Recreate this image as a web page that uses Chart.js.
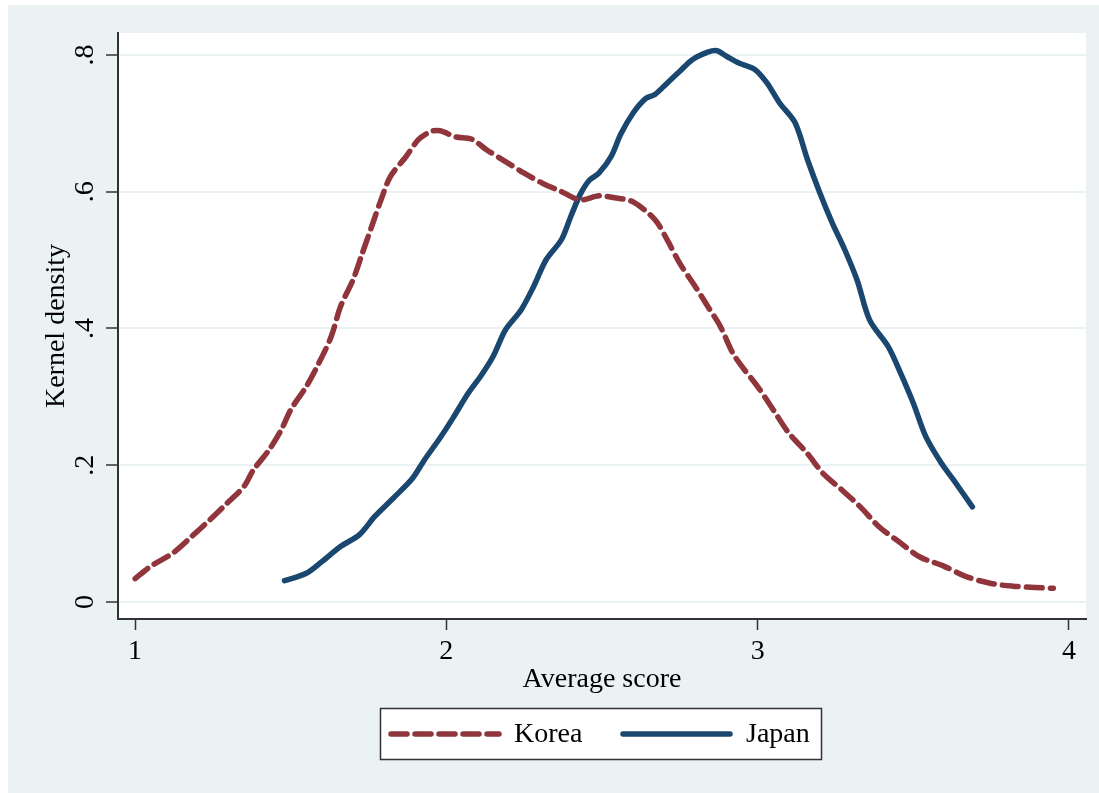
<!DOCTYPE html>
<html>
<head>
<meta charset="utf-8">
<script src="https://cdn.jsdelivr.net/npm/chart.js@4/dist/chart.umd.min.js"></script>
<style>
    html, body { margin: 0; padding: 0; background: #ffffff; }
    #densityChart { display: block; }
</style>
</head>
<body>
<canvas id="densityChart" width="1099" height="793"></canvas>
<script>
// Données
const koreaX = [1.00, 1.05, 1.12, 1.18, 1.24, 1.29, 1.35, 1.38, 1.43, 1.47, 1.50, 1.55, 1.59, 1.63, 1.66, 1.70, 1.73, 1.76, 1.79, 1.82, 1.87, 1.91, 1.95, 1.98, 2.03, 2.08, 2.13, 2.19, 2.25, 2.31, 2.37, 2.43, 2.49, 2.54, 2.60, 2.67, 2.71, 2.75, 2.80, 2.84, 2.88, 2.92, 2.95, 3.00, 3.05, 3.10, 3.16, 3.21, 3.27, 3.33, 3.39, 3.46, 3.52, 3.60, 3.67, 3.75, 3.82, 3.89, 3.95];
const koreaY = [0.034, 0.052, 0.071, 0.095, 0.120, 0.142, 0.169, 0.193, 0.222, 0.252, 0.281, 0.315, 0.349, 0.388, 0.432, 0.471, 0.510, 0.549, 0.588, 0.622, 0.651, 0.676, 0.688, 0.689, 0.680, 0.677, 0.661, 0.644, 0.627, 0.612, 0.600, 0.588, 0.594, 0.591, 0.585, 0.559, 0.529, 0.495, 0.461, 0.432, 0.403, 0.364, 0.344, 0.315, 0.281, 0.247, 0.217, 0.188, 0.164, 0.139, 0.110, 0.086, 0.066, 0.052, 0.037, 0.027, 0.023, 0.021, 0.020];

const japanX = [1.48, 1.55, 1.60, 1.66, 1.72, 1.77, 1.83, 1.89, 1.93, 1.98, 2.02, 2.07, 2.11, 2.15, 2.19, 2.24, 2.28, 2.32, 2.37, 2.40, 2.43, 2.46, 2.49, 2.53, 2.56, 2.60, 2.64, 2.67, 2.71, 2.75, 2.79, 2.84, 2.87, 2.90, 2.94, 2.99, 3.03, 3.07, 3.12, 3.16, 3.20, 3.24, 3.28, 3.32, 3.36, 3.42, 3.46, 3.50, 3.54, 3.59, 3.63, 3.69];
const japanY = [0.031, 0.042, 0.059, 0.081, 0.098, 0.125, 0.152, 0.180, 0.208, 0.240, 0.268, 0.305, 0.330, 0.359, 0.398, 0.427, 0.461, 0.500, 0.530, 0.564, 0.596, 0.617, 0.627, 0.652, 0.684, 0.715, 0.736, 0.742, 0.759, 0.776, 0.793, 0.804, 0.806, 0.798, 0.788, 0.779, 0.759, 0.730, 0.701, 0.647, 0.598, 0.554, 0.515, 0.470, 0.412, 0.373, 0.334, 0.291, 0.242, 0.203, 0.178, 0.139];

const xTicks = [1, 2, 3, 4];
const yTicks = [0, 0.2, 0.4, 0.6, 0.8];
const seriesNames = ['Korea', 'Japan'];

const FONT = "'Liberation Serif', 'Times New Roman', serif";
const BG = '#EAF2F3';
const KOREA_COLOR = '#90353B';
const JAPAN_COLOR = '#1A476F';
const KOREA_DASH = [16, 8];
const LINE_W = 5.5;

function toPoints(xs, ys) {
    return xs.map((x, i) => ({ x: x, y: ys[i] }));
}

// Format Stata : .2, .4 ...
function fmtY(v) {
    if (v === 0) return '0';
    return String(Math.round(v * 10) / 10).replace(/^0/, '');
}

// Fond, libellés des axes et légende dessinés à la main
const stataFrame = {
    id: 'stataFrame',
    beforeDraw(chart) {
        const ctx = chart.ctx;
        const a = chart.chartArea;
        ctx.save();
        ctx.fillStyle = '#ffffff';
        ctx.fillRect(0, 0, chart.width, chart.height);
        ctx.fillStyle = BG;
        ctx.fillRect(8, 5, chart.width - 8, chart.height - 5);
        ctx.fillStyle = '#ffffff';
        ctx.fillRect(a.left, a.top, a.right - a.left, a.bottom - a.top);
        ctx.restore();
    },
    afterDraw(chart) {
        const ctx = chart.ctx;
        const xs = chart.scales.x;
        const ys = chart.scales.y;
        const a = chart.chartArea;
        ctx.save();
        ctx.fillStyle = '#000000';
        ctx.font = '28px ' + FONT;

        // Graduations Y (tournées)
        ys.ticks.forEach(t => {
            const py = ys.getPixelForValue(t.value);
            ctx.save();
            ctx.translate(86, py);
            ctx.rotate(-Math.PI / 2);
            ctx.textAlign = 'center';
            ctx.textBaseline = 'middle';
            ctx.fillText(fmtY(t.value), 0, 0);
            ctx.restore();
        });

        // Graduations X
        ctx.textAlign = 'center';
        ctx.textBaseline = 'middle';
        xs.ticks.forEach(t => {
            ctx.fillText(String(t.value), xs.getPixelForValue(t.value), 652);
        });

        // Titres des axes
        ctx.fillText('Average score', (a.left + a.right) / 2, 680);
        ctx.save();
        ctx.translate(57, (a.top + a.bottom) / 2);
        ctx.rotate(-Math.PI / 2);
        ctx.fillText('Kernel density', 0, 0);
        ctx.restore();

        // Légende
        ctx.fillStyle = '#ffffff';
        ctx.fillRect(380.5, 708.5, 441, 51);
        ctx.strokeStyle = '#333333';
        ctx.lineWidth = 1.5;
        ctx.strokeRect(380.5, 708.5, 441, 51);

        const items = [
            { label: seriesNames[0], color: KOREA_COLOR, dash: KOREA_DASH, x0: 391, x1: 499, tx: 514 },
            { label: seriesNames[1], color: JAPAN_COLOR, dash: [], x0: 623, x1: 730, tx: 746 }
        ];
        items.forEach(it => {
            ctx.beginPath();
            ctx.strokeStyle = it.color;
            ctx.lineWidth = LINE_W;
            ctx.lineCap = 'round';
            ctx.setLineDash(it.dash);
            ctx.moveTo(it.x0, 734);
            ctx.lineTo(it.x1, 734);
            ctx.stroke();
            ctx.setLineDash([]);
            ctx.fillStyle = '#000000';
            ctx.textAlign = 'left';
            ctx.fillText(it.label, it.tx, 735);
        });
        ctx.restore();
    }
};

const ctx = document.getElementById('densityChart').getContext('2d');

new Chart(ctx, {
    type: 'scatter',
    data: {
        datasets: [{
            label: seriesNames[0],
            data: toPoints(koreaX, koreaY),
            showLine: true,
            borderColor: KOREA_COLOR,
            borderWidth: LINE_W,
            borderDash: KOREA_DASH,
            borderCapStyle: 'round',
            borderJoinStyle: 'round',
            pointRadius: 0,
            tension: 0.3
        }, {
            label: seriesNames[1],
            data: toPoints(japanX, japanY),
            showLine: true,
            borderColor: JAPAN_COLOR,
            borderWidth: LINE_W,
            borderCapStyle: 'round',
            borderJoinStyle: 'round',
            pointRadius: 0,
            tension: 0.3
        }]
    },
    options: {
        responsive: false,
        animation: false,
        layout: { padding: { top: 33, right: 13, left: 0, bottom: 0 } },
        plugins: {
            legend: { display: false },
            tooltip: { enabled: false }
        },
        scales: {
            x: {
                type: 'linear',
                min: 0.945,
                max: 4.055,
                afterBuildTicks: (scale) => { scale.ticks = xTicks.map(v => ({ value: v })); },
                afterFit: (scale) => { scale.height = 174; },
                ticks: { display: false },
                grid: {
                    drawOnChartArea: false,
                    tickLength: 11,
                    tickColor: '#333333',
                    tickWidth: 1.5
                },
                border: { display: true, color: '#333333', width: 2 }
            },
            y: {
                type: 'linear',
                min: -0.025,
                max: 0.832,
                afterBuildTicks: (scale) => { scale.ticks = yTicks.map(v => ({ value: v })); },
                afterFit: (scale) => { scale.width = 118; },
                ticks: { display: false },
                grid: {
                    color: BG,
                    lineWidth: 2,
                    tickLength: 12,
                    tickColor: '#333333',
                    tickWidth: 1.5
                },
                border: { display: true, color: '#333333', width: 2 }
            }
        }
    },
    plugins: [stataFrame]
});
</script>
</body>
</html>
